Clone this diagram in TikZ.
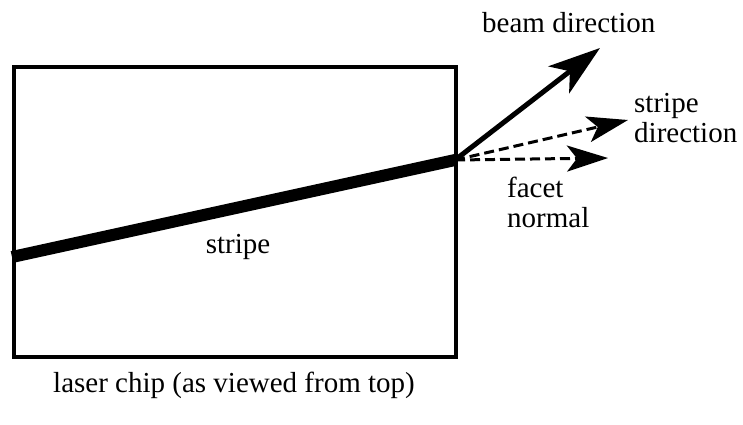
\documentclass[tikz,border=0pt]{standalone}
\usepackage{fontspec}
\setmainfont{Liberation Serif}
\usetikzlibrary{arrows.meta}
\begin{document}
\begin{tikzpicture}[x=1pt,y=-1pt,
  lbl/.style={inner sep=0pt,font=\fontsize{29}{29.5}\selectfont,anchor=base west,align=left},
  beam/.style={line width=5pt,-{Stealth[length=52pt,width=34pt,inset=14pt]}},
  dasharrow/.style={line width=3pt,dash pattern=on 10pt off 5pt,-{Stealth[length=41pt,width=26pt,inset=10pt]}}]
\useasboundingbox (0,0) rectangle (743,424);
% stripe (drawn first, under the chip outline)
\coordinate (sl) at (12,257);
\coordinate (facet) at (455,160);
\draw[line width=12pt] (sl) -- (facet);
% chip outline
\node[draw,line width=4pt,inner sep=0pt,minimum width=442pt,minimum height=290pt,anchor=north west] (chip) at (12,65) {};
% arrows
\coordinate (beamtip) at (600,48);
\coordinate (stripetip) at (628,120);
\coordinate (normaltip) at (608,158);
\draw[beam] (facet) -- (beamtip);
\draw[dasharrow] (facet) -- (stripetip);
\draw[dasharrow] (facet) -- (normaltip);
% labels (multi-line nodes: base anchor is the last line)
\node[lbl] (lbeam) at (482,32) {beam direction};
\node[lbl] (lstripedir) at (634,142) {stripe\\direction};
\node[lbl] (lfacet) at (507,227) {facet\\normal};
\node[lbl,anchor=base] (lstripe) at (238,253) {stripe};
\node[lbl] (lchip) at (53,392) {laser chip (as viewed from top)};
\end{tikzpicture}
\end{document}
